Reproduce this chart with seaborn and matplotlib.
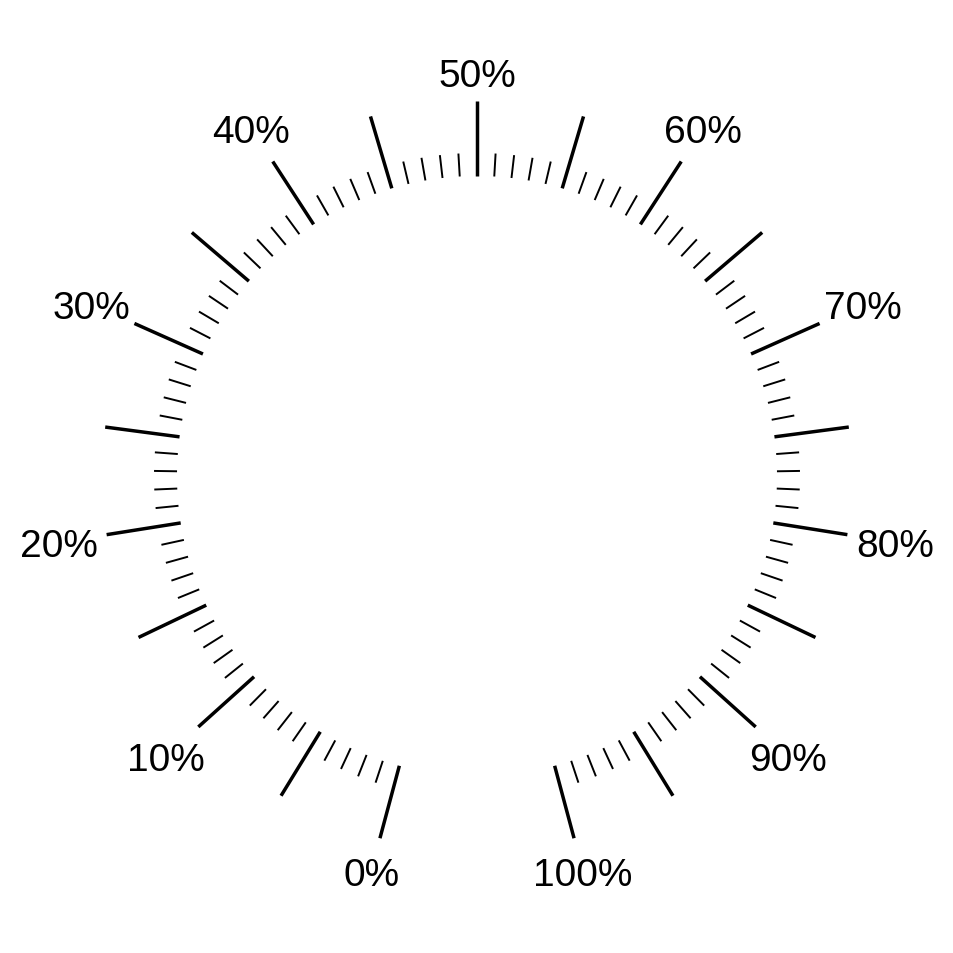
import matplotlib
matplotlib.use("Agg")
import matplotlib.pyplot as plt
import numpy as np
import pandas as pd
import seaborn as sns

# gauge scale: 0..100 %, one tick per percent
percents = list(range(0, 101))
major_every = 5
label_values = [0, 10, 20, 30, 40, 50, 60, 70, 80, 90, 100]
label_texts = [f"{v}%" for v in label_values]

start_deg = 15.0      # 0% sits 15 deg left of straight down
span_deg = 330.0      # total sweep of the dial

sns.set_theme(style="white")
plt.rcParams["font.family"] = ["Liberation Sans", "DejaVu Sans"]


def to_theta(p):
    return np.deg2rad(start_deg + span_deg * p / 100.0)


rows = []
for p in percents:
    kind = "major" if p % major_every == 0 else "minor"
    r_out = 375 if kind == "major" else 323
    th = to_theta(p)
    rows.append({"tick": p, "kind": kind, "theta": th, "r": 300})
    rows.append({"tick": p, "kind": kind, "theta": th, "r": r_out})
ticks = pd.DataFrame(rows)

fig = plt.figure(figsize=(9.54, 9.54), dpi=100)
ax = fig.add_axes([0, 0, 1, 1], projection="polar")
ax.set_theta_zero_location("S")
ax.set_theta_direction(-1)

sns.lineplot(
    data=ticks, x="theta", y="r", units="tick", estimator=None,
    size="kind", sizes={"major": 2.5, "minor": 1.4},
    color="black", legend=False, ax=ax, sort=False,
)
for line in ax.lines:
    line.set_solid_capstyle("butt")

for v, txt in zip(label_values, label_texts):
    th = to_theta(v)
    ang = np.deg2rad(span_deg * (v - 50) / 100.0)
    r_lab = 404 + 20 * abs(np.sin(ang))
    ax.text(th, r_lab, txt, ha="center", va="center_baseline", fontsize=28,
            color="black")

ax.set_ylim(0, 477)
ax.set_xticks([])
ax.set_yticks([])
ax.grid(False)
ax.spines["polar"].set_visible(False)
ax.set_xlabel("")
ax.set_ylabel("")
ax.set_facecolor("white")

fig.savefig("out.png", dpi=100, facecolor="white")
plt.close(fig)
